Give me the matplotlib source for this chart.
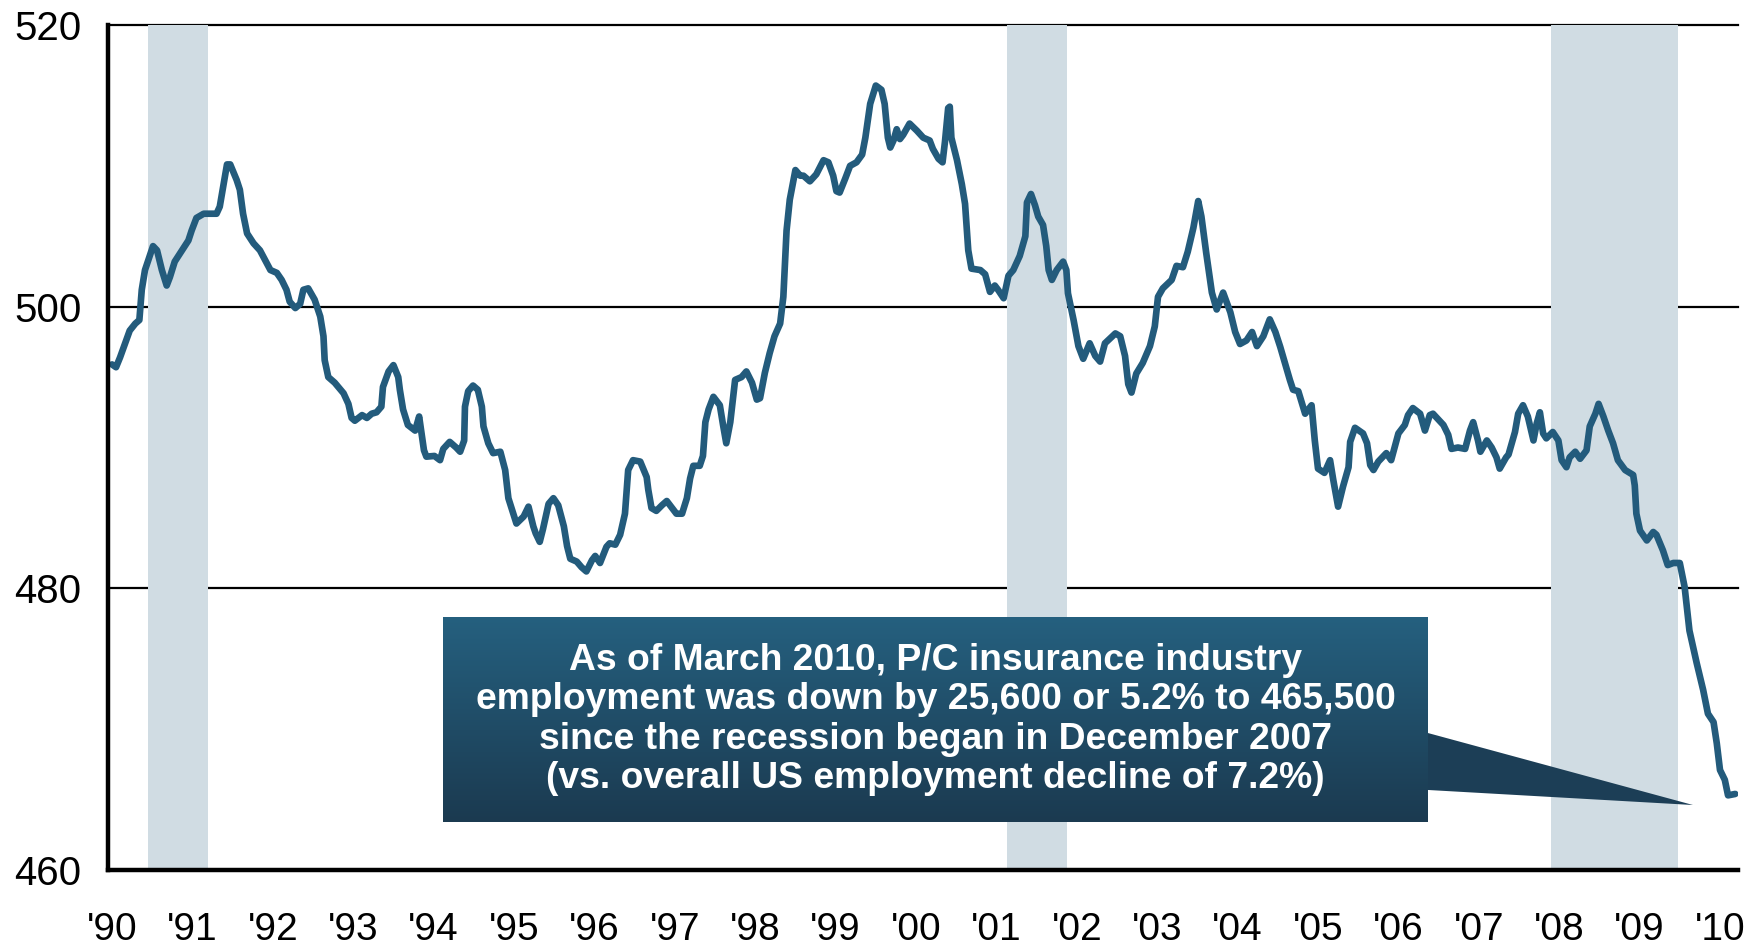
import numpy as np
import matplotlib
matplotlib.use("Agg")
import matplotlib.pyplot as plt
from matplotlib.patches import Polygon
from matplotlib.colors import LinearSegmentedColormap

# ---------------- data ----------------
dates = [
    1990.00, 1990.05, 1990.10, 1990.22, 1990.29, 1990.34, 1990.37, 1990.41, 1990.51, 1990.56,
    1990.62, 1990.68, 1990.72, 1990.78, 1990.95, 1990.99, 1991.05, 1991.14, 1991.30, 1991.34,
    1991.43, 1991.47, 1991.55, 1991.59, 1991.63, 1991.68, 1991.76, 1991.84, 1991.97, 1992.05,
    1992.11, 1992.17, 1992.21, 1992.28, 1992.34, 1992.38, 1992.44, 1992.52, 1992.59, 1992.63,
    1992.645, 1992.69, 1992.77, 1992.88, 1992.94, 1992.98, 1993.02, 1993.11, 1993.17, 1993.23,
    1993.29, 1993.35, 1993.37, 1993.44, 1993.50, 1993.56, 1993.58, 1993.62, 1993.68, 1993.77,
    1993.82, 1993.85, 1993.88, 1993.91, 1994.01, 1994.08, 1994.12, 1994.20, 1994.28, 1994.33,
    1994.38, 1994.39, 1994.43, 1994.49, 1994.55, 1994.60, 1994.62, 1994.68, 1994.74, 1994.83,
    1994.89, 1994.93, 1995.03, 1995.12, 1995.18, 1995.24, 1995.27, 1995.32, 1995.36, 1995.43,
    1995.49, 1995.55, 1995.62, 1995.66, 1995.70, 1995.78, 1995.84, 1995.90, 1995.97, 1996.01,
    1996.07, 1996.15, 1996.19, 1996.26, 1996.32, 1996.38, 1996.42, 1996.48, 1996.57, 1996.65,
    1996.67, 1996.71, 1996.77, 1996.84, 1996.90, 1996.94, 1997.02, 1997.09, 1997.15, 1997.19,
    1997.23, 1997.31, 1997.35, 1997.38, 1997.42, 1997.48, 1997.56, 1997.60, 1997.64, 1997.69,
    1997.75, 1997.83, 1997.89, 1997.96, 1998.02, 1998.06, 1998.12, 1998.18, 1998.24, 1998.31,
    1998.35, 1998.39, 1998.43, 1998.50, 1998.56, 1998.60, 1998.68, 1998.76, 1998.85, 1998.91,
    1998.97, 1999.01, 1999.05, 1999.12, 1999.18, 1999.26, 1999.33, 1999.37, 1999.43, 1999.50,
    1999.57, 1999.61, 1999.65, 1999.68, 1999.72, 1999.76, 1999.80, 1999.84, 1999.92, 2000.01,
    2000.09, 2000.17, 2000.21, 2000.28, 2000.33, 2000.36, 2000.40, 2000.42, 2000.44, 2000.51,
    2000.57, 2000.61, 2000.65, 2000.69, 2000.80, 2000.86, 2000.92, 2000.98, 2001.02, 2001.09,
    2001.15, 2001.21, 2001.29, 2001.36, 2001.38, 2001.43, 2001.48, 2001.52, 2001.58, 2001.62,
    2001.65, 2001.69, 2001.75, 2001.83, 2001.87, 2001.89, 2001.96, 2002.02, 2002.08, 2002.16,
    2002.23, 2002.29, 2002.35, 2002.48, 2002.54, 2002.60, 2002.64, 2002.68, 2002.74, 2002.82,
    2002.91, 2002.97, 2003.01, 2003.07, 2003.18, 2003.24, 2003.32, 2003.38, 2003.45, 2003.51,
    2003.55, 2003.61, 2003.68, 2003.74, 2003.78, 2003.82, 2003.91, 2003.97, 2004.03, 2004.11,
    2004.18, 2004.24, 2004.32, 2004.40, 2004.47, 2004.53, 2004.65, 2004.69, 2004.755, 2004.84,
    2004.92, 2004.96, 2005.00, 2005.08, 2005.15, 2005.19, 2005.25, 2005.31, 2005.38, 2005.40,
    2005.46, 2005.56, 2005.61, 2005.65, 2005.69, 2005.75, 2005.85, 2005.91, 2006.00, 2006.08,
    2006.12, 2006.18, 2006.27, 2006.33, 2006.39, 2006.43, 2006.56, 2006.62, 2006.66, 2006.74,
    2006.83, 2006.89, 2006.93, 2006.99, 2007.02, 2007.10, 2007.16, 2007.22, 2007.26, 2007.34,
    2007.37, 2007.45, 2007.49, 2007.55, 2007.61, 2007.68, 2007.72, 2007.76, 2007.80, 2007.84,
    2007.92, 2007.99, 2008.03, 2008.09, 2008.13, 2008.20, 2008.26, 2008.34, 2008.38, 2008.45,
    2008.49, 2008.55, 2008.61, 2008.67, 2008.73, 2008.82, 2008.92, 2008.94, 2008.96, 2009.005,
    2009.09, 2009.17, 2009.21, 2009.29, 2009.35, 2009.42, 2009.50, 2009.56, 2009.62, 2009.71,
    2009.79, 2009.85, 2009.92, 2009.96, 2010.00, 2010.06, 2010.10, 2010.19,
]
employment = [
    495.9, 495.7, 496.4, 498.3, 498.8, 499.05, 501.2, 502.6, 504.3, 504.0,
    502.6, 501.5, 502.1, 503.2, 504.7, 505.4, 506.3, 506.6, 506.6, 507.1,
    510.1, 510.1, 509.0, 508.3, 506.6, 505.2, 504.5, 504.0, 502.6, 502.4,
    501.9, 501.2, 500.35, 499.9, 500.2, 501.2, 501.3, 500.5, 499.3, 497.9,
    496.2, 495.0, 494.6, 493.85, 493.1, 492.1, 491.9, 492.3, 492.1, 492.4,
    492.5, 492.9, 494.3, 495.4, 495.85, 495.0, 494.1, 492.7, 491.6, 491.2,
    492.2, 491.0, 489.8, 489.35, 489.4, 489.1, 489.9, 490.4, 490.0, 489.7,
    490.5, 492.9, 494.0, 494.4, 494.1, 492.9, 491.5, 490.3, 489.6, 489.7,
    488.4, 486.4, 484.6, 485.1, 485.8, 484.4, 483.9, 483.3, 484.2, 486.0,
    486.4, 485.9, 484.4, 483.0, 482.1, 481.9, 481.5, 481.2, 482.0, 482.3,
    481.8, 482.95, 483.2, 483.1, 483.8, 485.3, 488.4, 489.1, 489.0, 487.9,
    487.0, 485.7, 485.5, 485.9, 486.2, 485.9, 485.3, 485.3, 486.4, 487.8,
    488.7, 488.7, 489.4, 491.8, 492.7, 493.6, 493.0, 491.6, 490.3, 491.8,
    494.8, 495.0, 495.4, 494.6, 493.4, 493.5, 495.3, 496.7, 497.9, 498.8,
    500.7, 505.4, 507.6, 509.7, 509.3, 509.3, 508.9, 509.4, 510.4, 510.25,
    509.3, 508.2, 508.1, 509.1, 510.0, 510.25, 510.8, 512.0, 514.4, 515.7,
    515.4, 514.4, 512.0, 511.3, 511.8, 512.6, 511.9, 512.2, 513.0, 512.5,
    512.0, 511.8, 511.2, 510.5, 510.25, 511.7, 514.1, 514.2, 512.0, 510.4,
    508.7, 507.3, 504.0, 502.7, 502.6, 502.3, 501.05, 501.5, 501.2, 500.6,
    502.2, 502.6, 503.6, 505.0, 507.4, 508.0, 507.2, 506.4, 505.8, 504.3,
    502.6, 501.9, 502.6, 503.2, 502.6, 500.95, 499.05, 497.2, 496.3, 497.4,
    496.5, 496.1, 497.4, 498.1, 497.9, 496.5, 494.5, 493.9, 495.25, 496.0,
    497.2, 498.6, 500.7, 501.3, 501.9, 502.9, 502.8, 503.9, 505.6, 507.5,
    506.4, 503.8, 501.0, 499.8, 500.4, 501.0, 499.6, 498.2, 497.35, 497.6,
    498.2, 497.2, 497.9, 499.1, 498.2, 497.15, 494.8, 494.1, 494.0, 492.4,
    493.0, 490.5, 488.5, 488.2, 489.1, 487.7, 485.8, 487.2, 488.6, 490.4,
    491.4, 491.0, 490.3, 488.75, 488.4, 489.0, 489.6, 489.1, 491.0, 491.6,
    492.3, 492.8, 492.4, 491.2, 492.3, 492.4, 491.6, 490.9, 489.9, 490.0,
    489.9, 491.2, 491.8, 490.5, 489.7, 490.5, 490.0, 489.3, 488.5, 489.3,
    489.5, 491.1, 492.4, 493.0, 492.2, 490.5, 491.7, 492.5, 491.0, 490.65,
    491.1, 490.5, 489.1, 488.6, 489.3, 489.7, 489.2, 489.8, 491.5, 492.4,
    493.1, 492.2, 491.2, 490.3, 489.1, 488.4, 488.05, 487.3, 485.3, 484.1,
    483.4, 484.0, 483.8, 482.7, 481.65, 481.8, 481.8, 480.1, 477.0, 474.7,
    472.8, 471.1, 470.5, 469.0, 467.1, 466.4, 465.3, 465.4,
]
recession_start = [1990.45, 2001.13, 2007.90]
recession_end = [1991.19, 2001.88, 2009.48]
year_ticks = list(range(1990, 2011))
year_labels = ["'%02d" % (y % 100) for y in year_ticks]
value_ticks = [460, 480, 500, 520]
callout_text = ("As of March 2010, P/C insurance industry\n"
                "employment was down by 25,600 or 5.2% to 465,500\n"
                "since the recession began in December 2007\n"
                "(vs. overall US employment decline of 7.2%)")

# ---------------- figure ----------------
plt.rcParams['font.family'] = ['Liberation Sans', 'DejaVu Sans']
W, H = 1762, 948
fig = plt.figure(figsize=(W / 100, H / 100), dpi=100)
fig.patch.set_facecolor('white')

ax = fig.add_axes([108 / W, 1 - 870 / H, 1630 / W, 845 / H])
ax.set_xlim(1989.95, 2010.224)
ax.set_ylim(460, 520)

for s, e in zip(recession_start, recession_end):
    ax.axvspan(s, e, color='#D0DCE3', lw=0, zorder=1)

for v in value_ticks[1:]:
    ax.axhline(v, color='black', lw=1.6, zorder=0.5, clip_on=False)

ax.plot(dates, employment, color='#235B7C', lw=4.8, zorder=3,
        solid_joinstyle='round', solid_capstyle='round')

for side in ['top', 'right']:
    ax.spines[side].set_visible(False)
for side in ['left', 'bottom']:
    ax.spines[side].set_linewidth(3.2)
    ax.spines[side].set_color('black')
    ax.spines[side].set_zorder(4)

ax.set_xticks(year_ticks)
ax.set_xticklabels(year_labels)
ax.set_yticks(value_ticks)
ax.set_yticklabels([str(v) for v in value_ticks])
ax.tick_params(axis='x', length=0, pad=30, labelsize=28)
ax.tick_params(axis='y', length=0, pad=19, labelsize=29)

# callout pointer (axes-fraction coordinates)
wedge = Polygon([(0.8098, 0.1621), (0.8098, 0.0947), (0.9724, 0.0769)],
                closed=True, transform=ax.transAxes, facecolor='#1C3E56',
                edgecolor='none', zorder=5, clip_on=False)
ax.add_patch(wedge)

# callout box with vertical gradient
bx = fig.add_axes([443 / W, 1 - 822 / H, 985 / W, 205 / H])
cmap = LinearSegmentedColormap.from_list('box', ['#1B3A50', '#25607F'])
grad = np.linspace(0, 1, 256).reshape(-1, 1)
bx.imshow(grad, cmap=cmap, aspect='auto', origin='lower', extent=[0, 1, 0, 1])
bx.set_xlim(0, 1)
bx.set_ylim(0, 1)
bx.axis('off')
bx.text(0.5, 0.5, callout_text, ha='center', va='center', color='white',
        fontsize=26.8, fontweight='bold', linespacing=1.17,
        transform=bx.transAxes)

fig.savefig('out.png', dpi=100)
